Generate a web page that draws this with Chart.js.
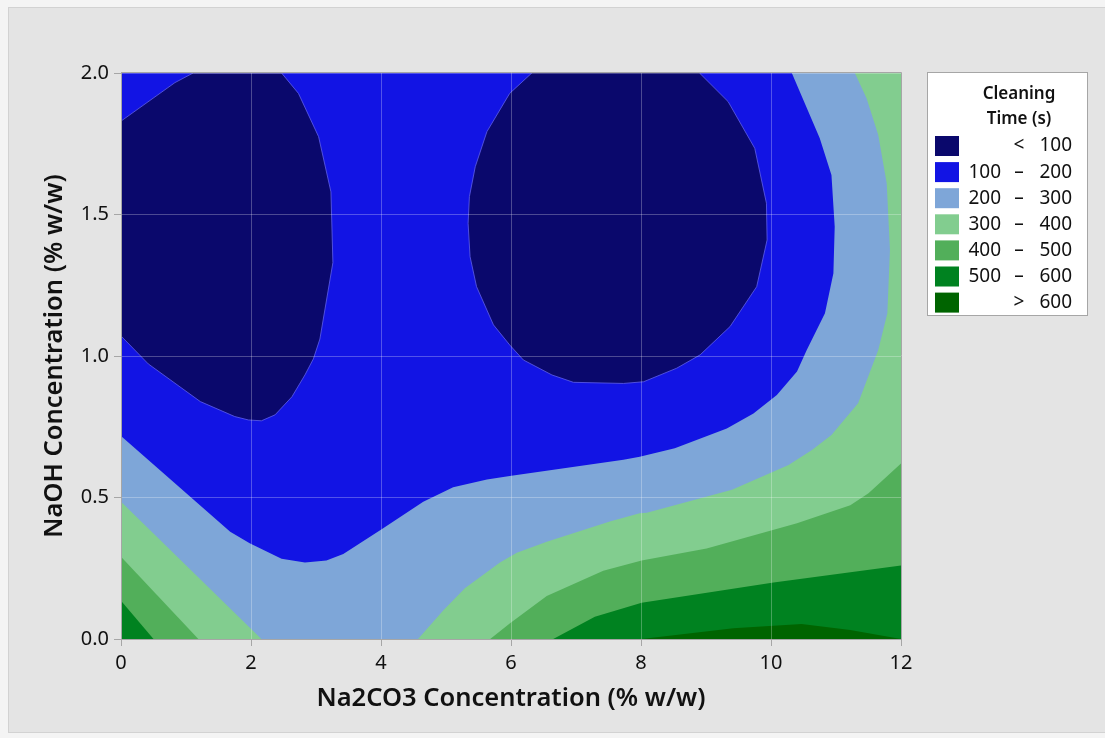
<!DOCTYPE html>
<html>
<head>
<meta charset="utf-8">
<title>Cleaning Time contour</title>
<script src="https://cdn.jsdelivr.net/npm/chart.js@4.4.1/dist/chart.umd.min.js"></script>
<style>
html,body{margin:0;padding:0;background:#f4f4f4;}
#frame{position:absolute;left:8px;top:7px;width:1097px;height:726px;background:#e4e4e4;border-left:1px solid #d2d2d2;border-top:1px solid #d2d2d2;border-bottom:1px solid #d2d2d2;box-sizing:border-box;}
#chart{position:absolute;left:0;top:0;}
</style>
</head>
<body>
<div id="frame"></div>
<canvas id="chart" width="1105" height="738"></canvas>
<script>

// AXES

const xTicks = [0, 2, 4, 6, 8, 10, 12];
const yTicks = [0, 0.5, 1.0, 1.5, 2.0];

// CONTOUR LEVELS (s) AND BAND COLOURS (lowest band first)

const levels = [100, 200, 300, 400, 500, 600];
const bandColors = ["#0a086c", "#1214e4", "#7ea6d8", "#82cd8f", "#52af5a", "#008220", "#006400"];

// CONTOUR LINES, [Na2CO3, NaOH] pairs

// 100 s, two closed islands
const c100Left = [
[0,1.83],[0.83,1.966],[1.11,2.0],[2.47,2.0],[2.73,1.928],[3.04,1.775],[3.23,1.58],[3.26,1.33],
[3.06,1.06],[2.96,0.99],[2.83,0.933],[2.63,0.856],[2.37,0.792],[2.16,0.771],[1.96,0.774],
[1.75,0.786],[1.22,0.839],[0.42,0.972],[0,1.071]
];
const c100Right = [
[6.32,2.0],[5.98,1.928],[5.63,1.793],[5.45,1.669],[5.36,1.563],[5.34,1.469],[5.37,1.351],
[5.47,1.245],[5.73,1.11],[5.98,1.039],[6.19,0.986],[6.63,0.933],[6.96,0.907],[7.73,0.903],
[8.04,0.909],[8.55,0.957],[8.91,1.004],[9.37,1.104],[9.78,1.245],[9.94,1.41],[9.93,1.54],
[9.75,1.734],[9.34,1.899],[8.90,2.0]
];

// 200 s, from the left edge round to the top edge
const c200 = [
[0,0.717],[1.68,0.379],[1.98,0.338],[2.47,0.284],[2.83,0.27],[3.16,0.277],[3.42,0.30],
[4.01,0.388],[4.65,0.485],[5.11,0.536],[5.63,0.564],[5.98,0.576],[7.73,0.633],[7.98,0.644],
[8.52,0.674],[9.32,0.744],[9.73,0.797],[10.09,0.862],[10.40,0.945],[10.55,1.021],[10.83,1.151],
[10.96,1.292],[10.98,1.457],[10.93,1.64],[10.75,1.769],[10.32,2.0]
];

// 300 s
const c300Left = [[0,0.485],[2.16,0]];
const c300Right = [
[4.57,0],[4.96,0.102],[5.29,0.179],[5.83,0.27],[6.09,0.305],[6.55,0.344],[7.52,0.415],
[7.98,0.444],[8.09,0.446],[9.40,0.527],[10.27,0.615],[10.63,0.668],[10.93,0.721],[11.34,0.833],
[11.65,1.021],[11.79,1.151],[11.83,1.375],[11.78,1.61],[11.65,1.781],[11.47,1.911],[11.29,2.0]
];

// 400 s
const c400Left = [[0,0.291],[1.19,0]];
const c400Right = [
[5.68,0],[5.98,0.055],[6.55,0.152],[7.42,0.241],[8.01,0.277],[9.01,0.32],[10.40,0.409],
[11.22,0.473],[11.50,0.515],[12,0.62]
];

// 500 s
const c500Left = [[0,0.135],[0.5,0]];
const c500Right = [[6.65,0],[7.29,0.079],[8.01,0.128],[10.04,0.2],[12,0.26]];

// 600 s
const c600 = [[8.01,0],[9.42,0.038],[10.47,0.053],[11.22,0.032],[12,0]];


// BUILD FILLED REGIONS

const X0 = xTicks[0], X1 = xTicks[xTicks.length - 1];
const Y0 = yTicks[0], Y1 = yTicks[yTicks.length - 1];

function region(points, band, order){
return {
data: points.map(p => ({x: p[0], y: p[1]})),
showLine: true,
fill: "shape",
backgroundColor: bandColors[band],
borderWidth: 0,
pointRadius: 0,
tension: 0,
order: order
};
}

const datasets = [

region([[X0,Y0],[X0,Y1],[X1,Y1],[X1,Y0]], 1, 10),

Object.assign(region(c100Left, 0, 9), {borderWidth: 1, borderColor: "rgba(95,95,235,0.8)"}),
Object.assign(region(c100Right, 0, 9), {borderWidth: 1, borderColor: "rgba(95,95,235,0.8)"}),

region(c200.concat([[X1,Y1],[X1,Y0],[X0,Y0]]), 2, 8),

region([[X0,Y0]].concat(c300Left), 3, 7),
region(c300Right.concat([[X1,Y1],[X1,Y0]]), 3, 7),

region([[X0,Y0]].concat(c400Left), 4, 6),
region(c400Right.concat([[X1,Y0]]), 4, 6),

region([[X0,Y0]].concat(c500Left), 5, 5),
region(c500Right.concat([[X1,Y0]]), 5, 5),

region(c600, 6, 4)

];


// LEGEND BOX AND PLOT FRAME

const bandLegend = {
id: "bandLegend",
afterDraw(chart, args, opts){
const ctx = chart.ctx;
const area = chart.chartArea;
const left = area.right + 26;
const top = area.top - 1;

ctx.save();

// frame round the plot
ctx.strokeStyle = "#a6a6a6";
ctx.lineWidth = 1;
ctx.beginPath();
ctx.moveTo(area.left, area.top - 0.5);
ctx.lineTo(area.right + 0.5, area.top - 0.5);
ctx.lineTo(area.right + 0.5, area.bottom);
ctx.stroke();

ctx.fillStyle = "#ffffff";
ctx.fillRect(left, top, 160, 243);
ctx.strokeRect(left + 0.5, top + 0.5, 160, 243);

ctx.fillStyle = "#111";
ctx.textAlign = "center";
ctx.textBaseline = "alphabetic";
ctx.font = "600 17px 'Noto Sans'";
opts.title.forEach((t, i) => ctx.fillText(t, left + 92, top + 27 + i * 25));

ctx.font = "19px 'Noto Sans'";
ctx.textBaseline = "middle";

for(let i = 0; i < bandColors.length; i++){
const y = top + 74 + i * 26.1;
let lo = "", sym = "–", hi = "";
if(i === 0){ sym = "<"; hi = String(levels[0]); }
else if(i === levels.length){ sym = ">"; hi = String(levels[levels.length - 1]); }
else { lo = String(levels[i - 1]); hi = String(levels[i]); }

ctx.fillStyle = bandColors[i];
ctx.fillRect(left + 8, y - 10, 24, 20);

ctx.fillStyle = "#111";
ctx.textAlign = "right";
ctx.fillText(lo, left + 74, y);
ctx.textAlign = "center";
ctx.fillText(sym, left + 92, y);
ctx.textAlign = "right";
ctx.fillText(hi, left + 145, y);
}

ctx.restore();
}
};


// CHART

const tickFont = {family: "'Noto Sans'", size: 20};
const titleFont = {family: "'Noto Sans'", size: 25.5, weight: "600"};

new Chart(document.getElementById("chart"), {

type: "scatter",

data: {datasets: datasets},

options: {
responsive: false,
animation: false,
layout: {padding: {left: 39, top: 73, right: 204, bottom: 10}},
plugins: {
legend: {display: false},
tooltip: {enabled: false},
bandLegend: {title: ["Cleaning", "Time (s)"]}
},
scales: {
x: {
type: "linear",
min: X0,
max: X1,
afterBuildTicks: s => { s.ticks = xTicks.map(v => ({value: v})); },
afterFit: s => { s.height = 89; },
ticks: {font: tickFont, color: "#111", padding: 5, maxRotation: 0},
grid: {color: "rgba(255,255,255,0.27)", tickColor: "#a6a6a6", tickLength: 7, z: 1},
border: {color: "#a6a6a6", z: 2},
title: {display: true, text: "Na2CO3 Concentration (% w/w)", font: titleFont, color: "#111", padding: {top: 0, bottom: 14}}
},
y: {
type: "linear",
min: Y0,
max: Y1,
afterBuildTicks: s => { s.ticks = yTicks.map(v => ({value: v})); },
afterFit: s => { s.width = 82; },
ticks: {font: tickFont, color: "#111", padding: 5, callback: v => v.toFixed(1)},
grid: {color: "rgba(255,255,255,0.27)", tickColor: "#a6a6a6", tickLength: 7, z: 1},
border: {color: "#a6a6a6", z: 2},
title: {display: true, text: "NaOH Concentration (% w/w)", font: titleFont, color: "#111", padding: {top: 0, bottom: 0}}
}
}
},

plugins: [bandLegend]

});

</script>
</body>
</html>
